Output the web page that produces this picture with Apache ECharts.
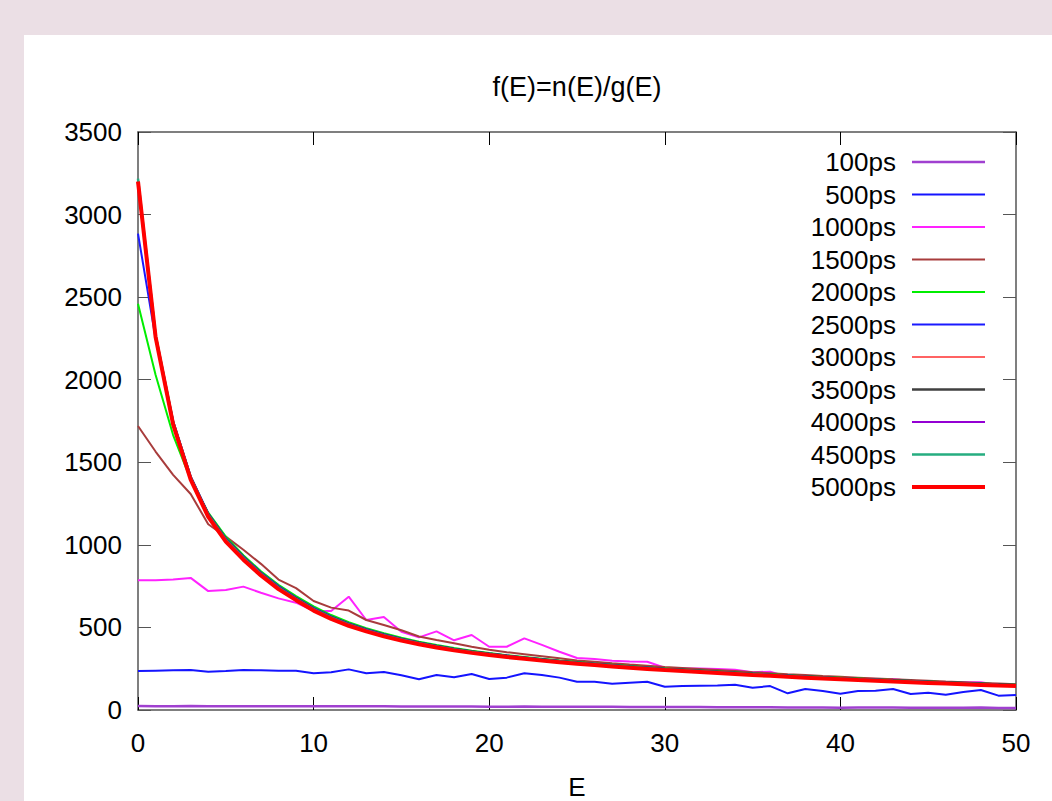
<!DOCTYPE html>
<html>
<head>
<meta charset="utf-8">
<script src="https://cdn.jsdelivr.net/npm/echarts@6/dist/echarts.min.js"></script>
<style>
  html, body { margin: 0; padding: 0; width: 1052px; height: 801px; background: #ebdfe5; overflow: hidden; }
  #chart { position: absolute; left: 24px; top: 35px; width: 1028px; height: 766px; background: #ffffff; }
</style>
</head>
<body>
<div id="chart"></div>
<script>
const titleText = 'f(E)=n(E)/g(E)';
const xName = 'E';
const energies = [0,1,2,3,4,5,6,7,8,9,10,11,12,13,14,15,16,17,18,19,20,21,22,23,24,25,26,27,28,29,30,31,32,33,34,35,36,37,38,39,40,41,42,43,44,45,46,47,48,49,50];
const seriesNames = ['100ps','500ps','1000ps','1500ps','2000ps','2500ps','3000ps','3500ps','4000ps','4500ps','5000ps'];

const s100 = [24,23,23,24,22,22,22,22,22,22,22,23,23,22,22,21,21,21,21,21,20,20,21,20,20,19,19,19,18,18,18,18,18,17,17,17,16,15,15,15,14,15,15,15,14,14,14,14,15,12,12];
const s500 = [236,238,240,242,232,236,242,240,238,238,222,228,246,222,230,210,186,212,198,218,188,196,222,212,196,171,171,159,165,171,141,145,147,149,153,135,145,101,127,115,99,115,117,127,97,105,93,109,121,87,91];
const s1000 = [785,785,790,800,720,727,747,710,676,650,600,600,686,545,563,474,440,476,422,454,383,383,434,394,353,315,309,298,294,292,256,253,252,248,244,229,232,200,206,192,188,190,188,188,176,172,166,168,168,152,152];
const s1500 = [1720,1565,1424,1308,1125,1050,970,885,790,738,660,620,602,545,515,483,445,424,404,383,365,350,338,326,314,300,292,283,275,268,260,254,248,242,236,229,223,217,212,206,201,196,191,186,182,177,172,168,164,160,156];
const s2000 = [2460,2030,1665,1395,1195,1050,937,840,758,690,627,575,532,496,465,438,414,394,375,359,345,332,321,310,300,291,282,274,266,259,252,245,239,233,227,221,216,210,205,200,195,190,185,181,176,172,168,164,160,156,153];
const s2500 = [2885,2250,1750,1415,1190,1040,930,832,750,681,618,567,524,489,459,432,409,389,371,355,342,330,318,307,297,288,280,272,264,257,250,244,238,231,225,220,214,209,203,198,193,188,184,179,175,171,167,163,159,155,152];
const s3000 = [3205,2262,1735,1400,1176,1026,916,820,737,670,607,557,515,481,451,425,403,383,365,350,337,325,314,303,293,284,276,268,260,253,246,240,234,228,222,216,211,205,200,195,190,185,181,176,172,168,164,160,156,152,149];
const s3500 = [3195,2270,1745,1410,1185,1035,925,828,745,677,614,563,521,486,456,430,407,387,369,354,340,328,317,306,296,287,279,271,263,256,249,243,237,231,225,219,214,208,203,198,193,188,183,179,175,171,167,163,159,155,151];
const s4000 = [3210,2265,1742,1407,1182,1032,922,826,743,675,612,561,519,484,454,428,405,385,367,352,338,326,315,304,294,285,277,269,261,254,247,241,235,229,223,217,212,206,201,196,191,186,182,177,173,169,165,161,157,153,150];
const s4500 = [3218,2268,1740,1405,1180,1030,920,823,740,672,610,559,517,482,452,426,404,384,366,351,337,325,314,303,293,284,276,268,260,253,246,240,234,228,222,216,211,205,200,195,190,185,181,176,172,168,164,160,156,152,149];
const s5000 = [3200,2260,1730,1395,1170,1020,910,815,732,665,602,552,510,476,446,420,398,378,361,346,333,321,310,299,289,280,272,264,256,249,242,236,230,224,218,212,207,201,196,191,186,181,177,172,168,164,160,156,152,148,145];

const allValues = [s100,s500,s1000,s1500,s2000,s2500,s3000,s3500,s4000,s4500,s5000];
const colors = ['#a040d0','#1414ff','#ff22ff','#a83c3c','#00ee00','#1a1aff','#ff3030','#404040','#9400d3','#26ad80','#ff0000'];
const widths = [2.5,2,2,2,2,2,1.5,2.5,2,2.5,4];

const chart = echarts.init(document.getElementById('chart'), null, { renderer: 'svg' });
const FONT = 'Liberation Sans, Arial, sans-serif';
const axisColor = '#555555';

function legendIconPath(w) {
  // 73 x 14 box; tiny anchor specks keep the bounds, a centred bar of thickness w
  const y0 = 7 - w / 2;
  return 'path://M0,0h0.01v0.01h-0.01z M0,' + y0 + 'h73v' + w + 'h-73z M72.99,14h0.01v-0.01h-0.01z';
}

const series = seriesNames.map((name, i) => ({
  name: name,
  type: 'line',
  data: energies.map((e, j) => [e, allValues[i][j]]),
  symbol: 'none',
  showSymbol: false,
  lineStyle: { color: colors[i], width: widths[i] },
  itemStyle: { color: colors[i] },
  xAxisIndex: 0,
  yAxisIndex: 0,
  animation: false
}));

chart.setOption({
  animation: false,
  backgroundColor: '#ffffff',
  textStyle: { fontFamily: FONT },
  graphic: [{
    type: 'text',
    x: 553,
    y: 52,
    style: { text: titleText, font: '27px ' + FONT, fill: '#000', textAlign: 'center', textVerticalAlign: 'middle' }
  }],
  grid: { left: 114, top: 97, width: 878, height: 578, containLabel: false, outerBoundsMode: 'none' },
  legend: {
    orient: 'vertical',
    right: 67,
    top: 114,
    padding: 0,
    align: 'right',
    itemWidth: 73,
    itemHeight: 14,
    itemGap: 6.5,
    data: seriesNames.map((n, i) => ({ name: n, icon: legendIconPath(widths[i]), itemStyle: { color: colors[i] } })),
    textStyle: { fontSize: 26, lineHeight: 26, color: '#000', fontFamily: FONT, padding: [0, 11, 0, 0] },
    selectedMode: false
  },
  xAxis: [{
    type: 'value', min: 0, max: 50, interval: 10, position: 'bottom',
    name: xName, nameLocation: 'middle', nameGap: 64,
    nameTextStyle: { fontSize: 26, color: '#000', fontFamily: FONT },
    axisLine: { show: true, onZero: false, lineStyle: { color: axisColor, width: 1.5 } },
    axisTick: { show: true, inside: true, length: 13, lineStyle: { color: '#000', width: 1 } },
    axisLabel: { fontSize: 26, color: '#000', margin: 20, fontFamily: FONT, formatter: v => String(v) },
    splitLine: { show: false }
  }, {
    type: 'value', min: 0, max: 50, interval: 10, position: 'top',
    axisLine: { show: true, onZero: false, lineStyle: { color: axisColor, width: 1.5 } },
    axisTick: { show: true, inside: true, length: 13, lineStyle: { color: '#000', width: 1 } },
    axisLabel: { show: false },
    splitLine: { show: false }
  }],
  yAxis: [{
    type: 'value', min: 0, max: 3500, interval: 500, position: 'left',
    axisLine: { show: true, onZero: false, lineStyle: { color: axisColor, width: 1.5 } },
    axisTick: { show: true, inside: true, length: 13, lineStyle: { color: axisColor, width: 1 } },
    axisLabel: { fontSize: 26, color: '#000', margin: 16, fontFamily: FONT, formatter: v => String(v) },
    splitLine: { show: false }
  }, {
    type: 'value', min: 0, max: 3500, interval: 500, position: 'right',
    axisLine: { show: true, onZero: false, lineStyle: { color: axisColor, width: 1.5 } },
    axisTick: { show: true, inside: true, length: 13, lineStyle: { color: axisColor, width: 1 } },
    axisLabel: { show: false },
    splitLine: { show: false }
  }],
  series: series
});
</script>
</body>
</html>
